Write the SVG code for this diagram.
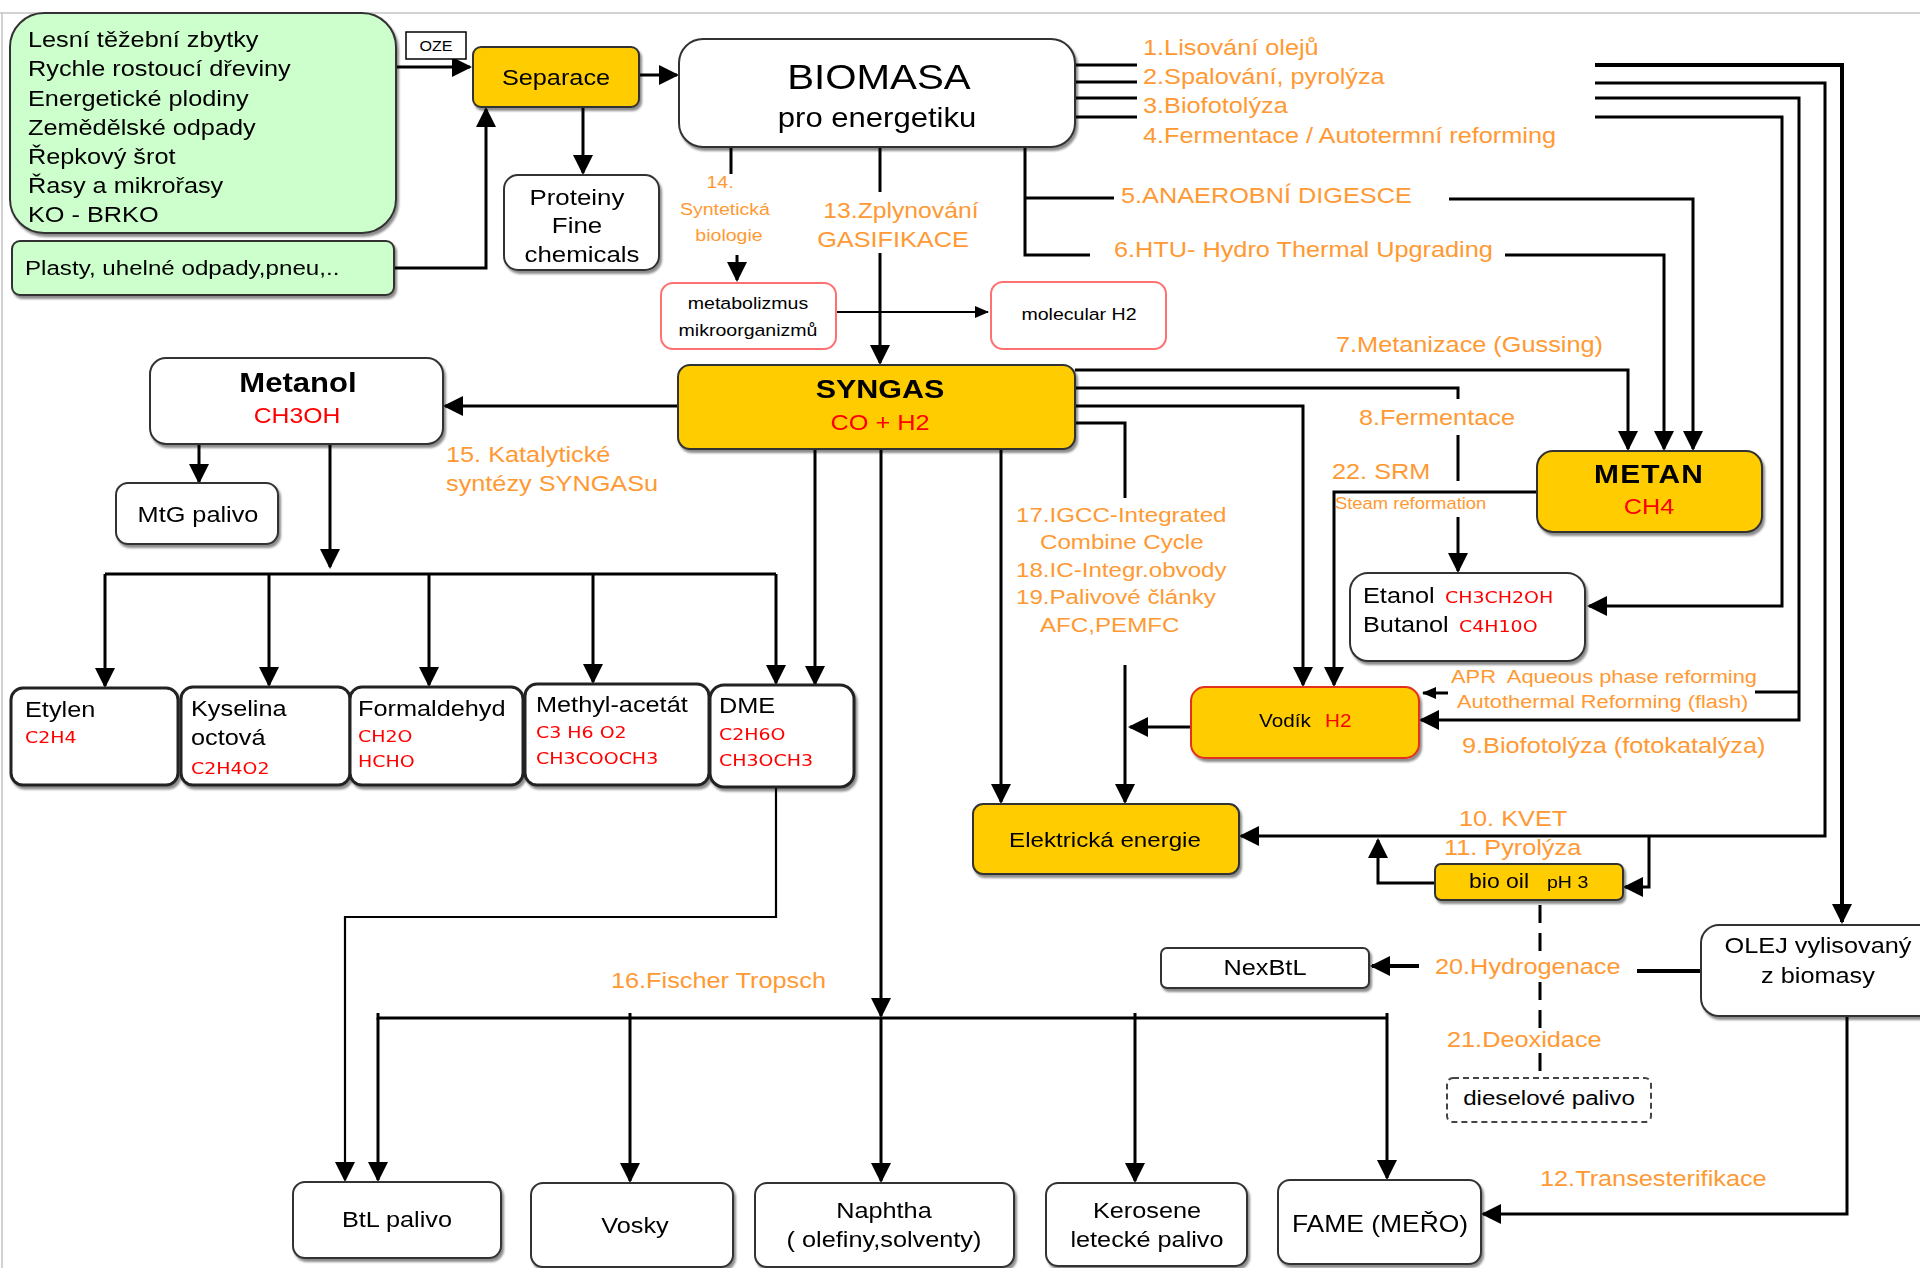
<svg xmlns="http://www.w3.org/2000/svg" width="1920" height="1268" viewBox="0 0 1920 1268">
<style>
text{font-family:"Liberation Sans",Arial,sans-serif;font-size:22px;fill:#000;transform-box:fill-box;transform-origin:0 50%;transform:scaleX(1.15)}
text.m{text-anchor:middle;transform-origin:50% 50%}
.o{fill:#FF9933}
.r{fill:#FF0000}
.f{font-family:"DejaVu Sans",Verdana,sans-serif;font-size:16.5px;fill:#FF0000}
.b{font-weight:bold}
.c path{fill:none;stroke:#000;stroke-width:3}
.c path.t{stroke-width:2.2}
.c path.d{stroke-dasharray:18 10}
.box{stroke:#333;stroke-width:2}
.bx3{stroke:#222;stroke-width:3}
.w{fill:#fff}
.g{fill:#FFCC00}
.gr{fill:#CCFFCC}
.pk{fill:#fff;stroke:#FF7070;stroke-width:2}
</style>
<defs>
<filter id="sh" x="-5%" y="-5%" width="115%" height="125%"><feDropShadow dx="2" dy="3" stdDeviation="1.2" flood-color="#000" flood-opacity="0.45"/></filter>
<marker id="ah" viewBox="0 0 20 20" refX="18" refY="10" markerWidth="20" markerHeight="20" markerUnits="userSpaceOnUse" orient="auto"><path d="M0,0L20,10L0,20z" fill="#000"/></marker>
<marker id="as" viewBox="0 0 14 12" refX="13" refY="6" markerWidth="14" markerHeight="12" markerUnits="userSpaceOnUse" orient="auto"><path d="M0,0L14,6L0,12z" fill="#000"/></marker>
</defs>
<rect x="0" y="0" width="1920" height="1268" fill="#fff"/>
<path d="M0 13H1920M2 13V1268" stroke="#c4c4c4" stroke-width="1.5" fill="none"/>

<g id="connectors" class="c">
<path d="M396 67H470" marker-end="url(#ah)"/>
<path d="M394 268H486V109" marker-end="url(#ah)"/>
<path d="M639 75H677" marker-end="url(#ah)"/>
<path d="M583 107V173" marker-end="url(#ah)"/>
<path d="M731 147V174"/>
<path d="M737 255V280" marker-end="url(#ah)"/>
<path d="M880 147V192"/>
<path d="M880 253V363" marker-end="url(#ah)"/>
<path class="t" d="M836 312H988" marker-end="url(#as)"/>
<path d="M1074 65H1137M1074 82H1137M1074 98H1137M1074 117H1137"/>
<path d="M1595 65H1842V922" marker-end="url(#ah)" style="stroke-width:4"/>
<path d="M1595 83H1825V836H1241" marker-end="url(#ah)"/>
<path d="M1595 98H1799V720H1421" marker-end="url(#ah)"/>
<path d="M1799 692H1755"/>
<path d="M1448 693H1423" marker-end="url(#as)"/>
<path d="M1595 117H1782V606H1589" marker-end="url(#ah)"/>
<path d="M1025 147V255H1090M1025 198H1114"/>
<path d="M1449 199H1693V449" marker-end="url(#ah)"/>
<path d="M1505 255H1664V449" marker-end="url(#ah)"/>
<path d="M1075 370H1628V449" marker-end="url(#ah)"/>
<path d="M1075 388H1458V399M1458 435V481"/>
<path d="M1458 517V571" marker-end="url(#ah)"/>
<path d="M1537 492H1334V685" marker-end="url(#ah)"/>
<path d="M1075 406H1303V685" marker-end="url(#ah)"/>
<path d="M1075 423H1125V498"/>
<path d="M1125 665V802" marker-end="url(#ah)"/>
<path d="M1191 727H1130" marker-end="url(#ah)"/>
<path d="M1001 449V802" marker-end="url(#ah)"/>
<path d="M815 449V684" marker-end="url(#ah)"/>
<path d="M881 449V1016" marker-end="url(#ah)"/>
<path d="M881 1018V1181" marker-end="url(#ah)"/>
<path d="M678 406H445" marker-end="url(#ah)"/>
<path d="M199 444V482" marker-end="url(#ah)"/>
<path d="M330 444V567" marker-end="url(#ah)"/>
<path d="M105 574H776"/>
<path d="M105 574V686" marker-end="url(#ah)"/>
<path d="M269 574V685" marker-end="url(#ah)"/>
<path d="M429 574V685" marker-end="url(#ah)"/>
<path d="M593 574V682" marker-end="url(#ah)"/>
<path d="M776 574V683" marker-end="url(#ah)"/>
<path class="t" d="M776 787V917H345V1180" marker-end="url(#ah)"/>
<path d="M378 1013V1018H1387M630 1013V1018M1135 1013V1018M1387 1013V1018"/>
<path d="M378 1018V1180" marker-end="url(#ah)"/>
<path d="M630 1018V1181" marker-end="url(#ah)"/>
<path d="M1135 1018V1181" marker-end="url(#ah)"/>
<path d="M1387 1018V1178" marker-end="url(#ah)"/>
<path d="M1649 836V887H1625" marker-end="url(#ah)"/>
<path d="M1435 883H1378V840" marker-end="url(#ah)"/>
<path class="d" d="M1540 905V953M1540 982V1030M1540 1053V1072"/>
<path d="M1701 971H1637" style="stroke-width:4"/>
<path d="M1419 966H1372" marker-end="url(#ah)" style="stroke-width:4"/>
<path d="M1847 1016V1214H1483" marker-end="url(#ah)"/>
</g>

<g id="n-zdroje" filter="url(#sh)">
<rect x="10" y="13" width="386" height="220" rx="34" class="gr box"/>
<text x="28" y="47">Lesní těžební zbytky</text>
<text x="28" y="76">Rychle rostoucí dřeviny</text>
<text x="28" y="106">Energetické plodiny</text>
<text x="28" y="135">Zemědělské odpady</text>
<text x="28" y="164">Řepkový šrot</text>
<text x="28" y="193">Řasy a mikrořasy</text>
<text x="28" y="222">KO - BRKO</text>
</g>
<g id="n-plasty" filter="url(#sh)">
<rect x="12" y="241" width="382" height="54" rx="8" class="gr box"/>
<text x="25" y="275" style="font-size:21px">Plasty, uhelné odpady,pneu,..</text>
</g>
<g id="n-oze">
<rect x="406" y="32" width="60" height="27" fill="#fff" stroke="#000" stroke-width="1.5"/>
<text class="m" x="436" y="51" style="font-size:14px">OZE</text>
</g>
<g id="n-separace" filter="url(#sh)">
<rect x="473" y="47" width="166" height="60" rx="8" class="g box"/>
<text class="m" x="556" y="85">Separace</text>
</g>
<g id="n-proteiny" filter="url(#sh)">
<rect x="504" y="175" width="155" height="95" rx="14" class="w box"/>
<text class="m" x="577" y="205" style="font-size:22.5px">Proteiny</text>
<text class="m" x="577" y="233" style="font-size:22.5px">Fine</text>
<text class="m" x="582" y="262" style="font-size:22.5px">chemicals</text>
</g>
<g id="n-biomasa" filter="url(#sh)">
<rect x="679" y="39" width="396" height="108" rx="24" class="w box"/>
<text class="m" x="879" y="89" style="font-size:35px">BIOMASA</text>
<text class="m" x="877" y="127" style="font-size:27px">pro energetiku</text>
</g>
<g id="n-metabolizmus">
<rect x="661" y="283" width="175" height="66" rx="12" class="pk"/>
<text class="m" x="748" y="309" style="font-size:17px">metabolizmus</text>
<text class="m" x="748" y="336" style="font-size:17px">mikroorganizmů</text>
</g>
<g id="n-molecular-h2">
<rect x="991" y="282" width="175" height="67" rx="12" class="pk"/>
<text class="m" x="1079" y="320" style="font-size:17px">molecular H2</text>
</g>
<g id="n-syngas" filter="url(#sh)">
<rect x="678" y="365" width="397" height="84" rx="12" class="g box"/>
<text class="m b" x="880" y="398" style="font-size:26.5px">SYNGAS</text>
<text class="m r" x="880" y="430">CO + H2</text>
</g>
<g id="n-metanol" filter="url(#sh)">
<rect x="150" y="358" width="293" height="86" rx="16" class="w box"/>
<text class="m b" x="298" y="392" style="font-size:27px">Metanol</text>
<text class="m r" x="297" y="423" style="font-size:21.5px">CH3OH</text>
</g>
<g id="n-mtg" filter="url(#sh)">
<rect x="116" y="483" width="162" height="61" rx="12" class="w box"/>
<text class="m" x="198" y="522">MtG palivo</text>
</g>
<g id="n-etylen" filter="url(#sh)">
<rect x="11" y="688" width="167" height="97" rx="12" class="w bx3"/>
<text x="25" y="717">Etylen</text>
<text class="f" x="25" y="743">C2H4</text>
</g>
<g id="n-kyselina" filter="url(#sh)">
<rect x="181" y="687" width="169" height="98" rx="12" class="w bx3"/>
<text x="191" y="716">Kyselina</text>
<text x="191" y="745">octová</text>
<text class="f" x="191" y="774">C2H4O2</text>
</g>
<g id="n-formaldehyd" filter="url(#sh)">
<rect x="350" y="687" width="173" height="98" rx="12" class="w bx3"/>
<text x="358" y="716">Formaldehyd</text>
<text class="f" x="358" y="742">CH2O</text>
<text class="f" x="358" y="767">HCHO</text>
</g>
<g id="n-methyl-acetat" filter="url(#sh)">
<rect x="525" y="684" width="184" height="101" rx="12" class="w bx3"/>
<text x="536" y="712">Methyl-acetát</text>
<text class="f" x="536" y="738">C3 H6 O2</text>
<text class="f" x="536" y="764">CH3COOCH3</text>
</g>
<g id="n-dme" filter="url(#sh)">
<rect x="710" y="685" width="144" height="102" rx="14" class="w bx3"/>
<text x="719" y="713">DME</text>
<text class="f" x="719" y="740">C2H6O</text>
<text class="f" x="719" y="766">CH3OCH3</text>
</g>
<g id="n-metan" filter="url(#sh)">
<rect x="1537" y="451" width="225" height="81" rx="16" class="g box"/>
<text class="m b" x="1649" y="483" style="font-size:26px;letter-spacing:1px">METAN</text>
<text class="m r" x="1649" y="514">CH4</text>
</g>
<g id="n-etanol" filter="url(#sh)">
<rect x="1350" y="573" width="235" height="88" rx="18" class="w box"/>
<text x="1363" y="603">Etanol</text>
<text class="f" x="1445" y="603">CH3CH2OH</text>
<text x="1363" y="632">Butanol</text>
<text class="f" x="1459" y="632">C4H10O</text>
</g>
<g id="n-vodik" filter="url(#sh)">
<rect x="1191" y="687" width="228" height="71" rx="14" class="g" stroke="#E0301E" stroke-width="2"/>
<text x="1259" y="727" style="font-size:18px">Vodík</text>
<text class="r" x="1325" y="727" style="font-size:18px">H2</text>
</g>
<g id="n-elektricka" filter="url(#sh)">
<rect x="973" y="804" width="266" height="70" rx="10" class="g box"/>
<text class="m" x="1105" y="847" style="font-size:21px">Elektrická energie</text>
</g>
<g id="n-biooil" filter="url(#sh)">
<rect x="1435" y="864" width="188" height="36" rx="6" class="g box"/>
<text x="1469" y="888" style="font-size:20px">bio oil</text>
<text x="1547" y="888" style="font-size:17px">pH 3</text>
</g>
<g id="n-nexbtl" filter="url(#sh)">
<rect x="1161" y="948" width="208" height="40" rx="6" class="w box"/>
<text class="m" x="1265" y="975">NexBtL</text>
</g>
<g id="n-olej" filter="url(#sh)">
<rect x="1701" y="925" width="240" height="91" rx="18" class="w box"/>
<text class="m" x="1818" y="953">OLEJ vylisovaný</text>
<text class="m" x="1818" y="983">z biomasy</text>
</g>
<g id="n-diesel">
<rect x="1447" y="1078" width="204" height="44" rx="6" fill="#fff" stroke="#444" stroke-width="2" stroke-dasharray="6 4"/>
<text class="m" x="1549" y="1105" style="font-size:21px">dieselové palivo</text>
</g>
<g id="n-btl" filter="url(#sh)">
<rect x="293" y="1182" width="208" height="76" rx="12" class="w box"/>
<text class="m" x="397" y="1227">BtL palivo</text>
</g>
<g id="n-vosky" filter="url(#sh)">
<rect x="531" y="1183" width="202" height="84" rx="12" class="w box"/>
<text class="m" x="635" y="1233">Vosky</text>
</g>
<g id="n-naphtha" filter="url(#sh)">
<rect x="755" y="1183" width="259" height="84" rx="12" class="w box"/>
<text class="m" x="884" y="1218">Naphtha</text>
<text class="m" x="884" y="1247">( olefiny,solventy)</text>
</g>
<g id="n-kerosene" filter="url(#sh)">
<rect x="1046" y="1183" width="201" height="83" rx="12" class="w box"/>
<text class="m" x="1147" y="1218">Kerosene</text>
<text class="m" x="1147" y="1247">letecké palivo</text>
</g>
<g id="n-fame" filter="url(#sh)">
<rect x="1278" y="1180" width="203" height="84" rx="12" class="w box"/>
<text class="m" x="1380" y="1232" style="font-size:23px">FAME (MEŘO)</text>
</g>

<g id="labels">
<text class="o" x="1143" y="55">1.Lisování olejů</text>
<text class="o" x="1143" y="84">2.Spalování, pyrolýza</text>
<text class="o" x="1143" y="113">3.Biofotolýza</text>
<text class="o" x="1143" y="143">4.Fermentace / Autotermní reforming</text>
<text class="o" x="1121" y="203">5.ANAEROBNÍ DIGESCE</text>
<text class="o" x="1114" y="257">6.HTU- Hydro Thermal Upgrading</text>
<text class="o m" x="720" y="188" style="font-size:17px">14.</text>
<text class="o m" x="725" y="215" style="font-size:17px">Syntetická</text>
<text class="o m" x="729" y="241" style="font-size:17px">biologie</text>
<text class="o m" x="901" y="218" style="font-size:21.5px">13.Zplynování</text>
<text class="o m" x="893" y="247">GASIFIKACE</text>
<text class="o" x="1336" y="352">7.Metanizace (Gussing)</text>
<text class="o" x="1359" y="425">8.Fermentace</text>
<text class="o" x="1332" y="479">22. SRM</text>
<text class="o" x="1335" y="509" style="font-size:16px">Steam reformation</text>
<text class="o" x="1451" y="683" style="font-size:19px">APR&#160; Aqueous phase reforming</text>
<text class="o" x="1457" y="708" style="font-size:19px">Autothermal Reforming (flash)</text>
<text class="o" x="1462" y="753">9.Biofotolýza (fotokatalýza)</text>
<text class="o" x="446" y="462">15. Katalytické</text>
<text class="o" x="446" y="491">syntézy SYNGASu</text>
<text class="o" x="1016" y="522" style="font-size:21px">17.IGCC-Integrated</text>
<text class="o" x="1040" y="549" style="font-size:21px">Combine Cycle</text>
<text class="o" x="1016" y="577" style="font-size:21px">18.IC-Integr.obvody</text>
<text class="o" x="1016" y="604" style="font-size:21px">19.Palivové články</text>
<text class="o" x="1040" y="632" style="font-size:21px">AFC,PEMFC</text>
<text class="o" x="1459" y="826">10. KVET</text>
<text class="o" x="1444" y="855">11. Pyrolýza</text>
<text class="o" x="1435" y="974">20.Hydrogenace</text>
<text class="o" x="1447" y="1047">21.Deoxidace</text>
<text class="o" x="1540" y="1186">12.Transesterifikace</text>
<text class="o" x="611" y="988">16.Fischer Tropsch</text>
</g>
</svg>
